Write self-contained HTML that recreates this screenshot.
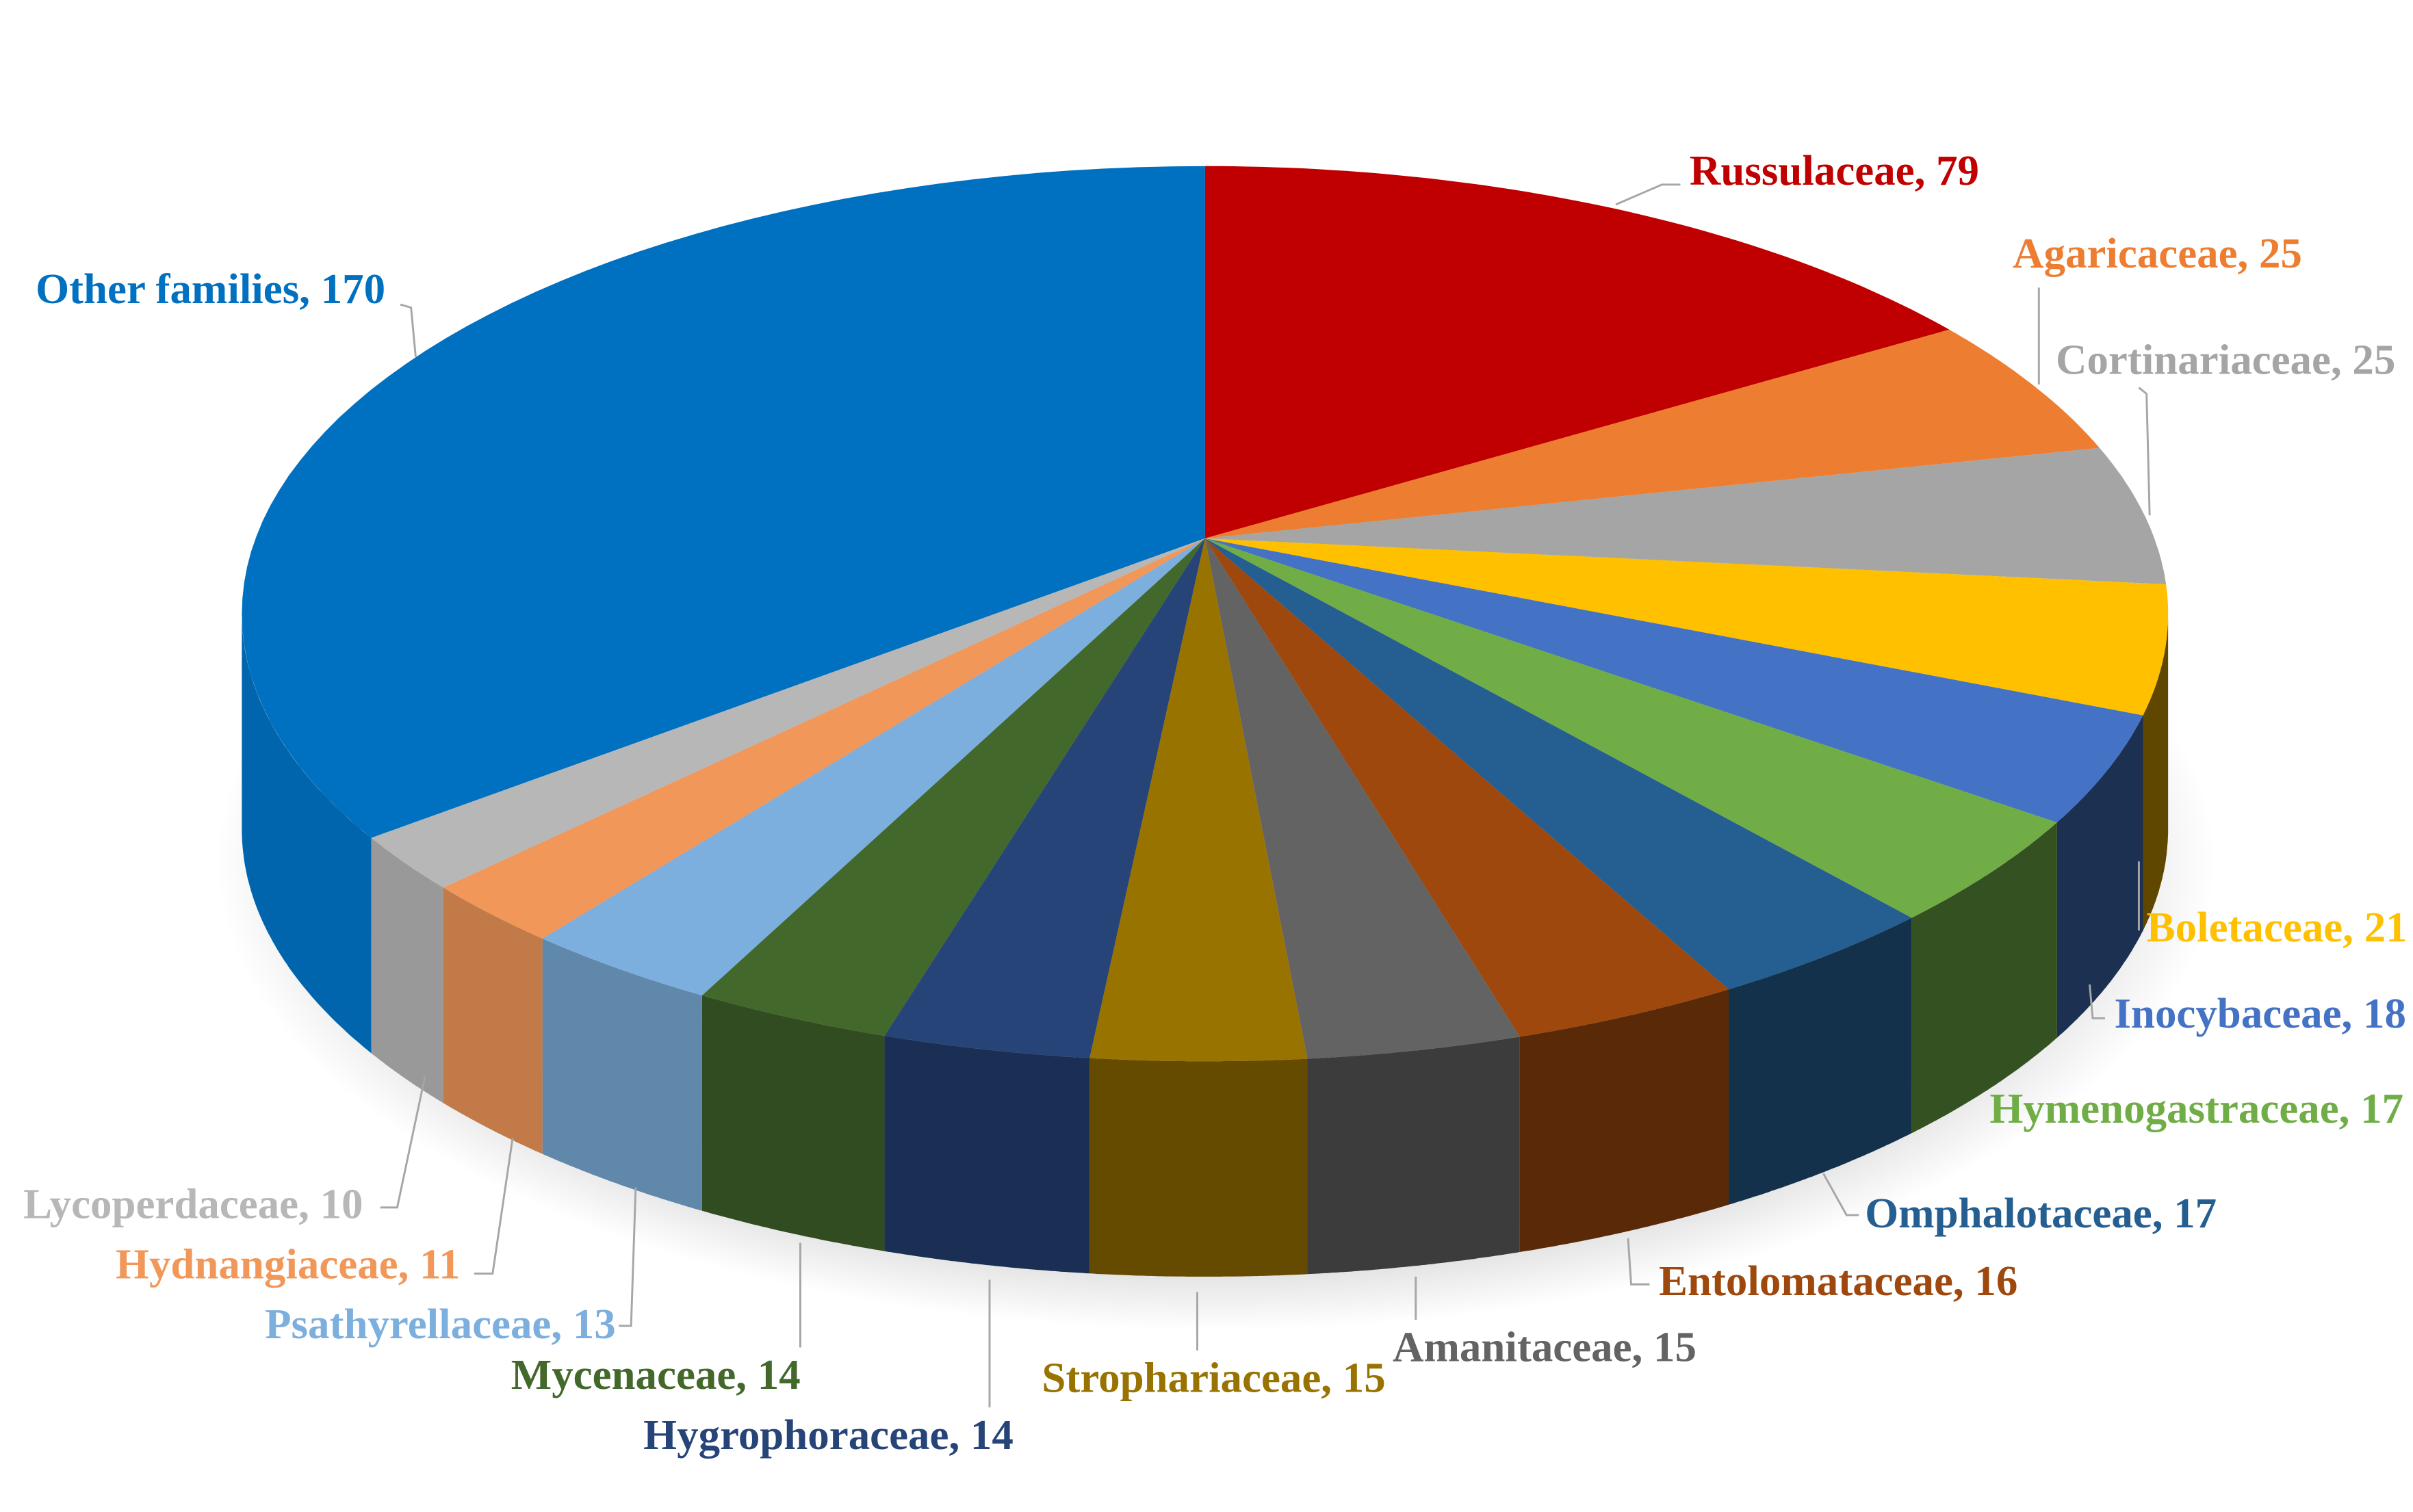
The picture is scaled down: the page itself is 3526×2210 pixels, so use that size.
<!DOCTYPE html>
<html><head><meta charset="utf-8"><style>
html,body{margin:0;padding:0;background:#fff;}
svg{display:block;}
text{font-family:"Liberation Serif",serif;font-size:28px;font-weight:bold;}
</style></head><body>
<svg id="s" width="3526" height="2210" viewBox="0 0 1568 983" xmlns="http://www.w3.org/2000/svg">
<defs>
<radialGradient id="sh" cx="0.5" cy="0.5" r="0.5"><stop offset="0.8" stop-color="#000" stop-opacity="0.18"/><stop offset="1" stop-color="#000" stop-opacity="0"/></radialGradient>
</defs>
<ellipse cx="790" cy="560" rx="650" ry="305" fill="url(#sh)"/>
<g id="sides"></g>
<g id="tops"></g>
<g stroke="#a6a6a6" stroke-width="1.3" fill="none">
<polyline points="1050,133 1080,120 1092,120"/>
<polyline points="1325,250 1325,187"/>
<polyline points="1397,335 1395,256 1390,252"/>
<polyline points="1390,560 1390,605"/>
<polyline points="1358,640 1360,662 1368,662"/>
<polyline points="1185,763 1200,790 1208,790"/>
<polyline points="1058,805 1060,835 1072,835"/>
<polyline points="920,830 920,858"/>
<polyline points="778,840 778,878"/>
<polyline points="643,832 643,915"/>
<polyline points="520,808 520,876"/>
<polyline points="413,772 410,862 402,862"/>
<polyline points="333,740 320,828 308,828"/>
<polyline points="276,700 258,785 247,785"/>
<polyline points="260,198 267,200 270,232"/>
</g>
<text x="1098" y="120" fill="#C00000">Russulaceae, 79</text>
<text x="1308" y="174" fill="#ED7D31">Agaricaceae, 25</text>
<text x="1336" y="243" fill="#A5A5A5">Cortinariaceae, 25</text>
<text x="1395" y="612" fill="#FFC000">Boletaceae, 21</text>
<text x="1374" y="668" fill="#4472C4">Inocybaceae, 18</text>
<text x="1293" y="730" fill="#70AD47">Hymenogastraceae, 17</text>
<text x="1212" y="798" fill="#255E91">Omphalotaceae, 17</text>
<text x="1078" y="842" fill="#9E480E">Entolomataceae, 16</text>
<text x="905" y="885" fill="#636363">Amanitaceae, 15</text>
<text x="677" y="905" fill="#997300">Strophariaceae, 15</text>
<text x="418" y="942" fill="#264478">Hygrophoraceae, 14</text>
<text x="332" y="903" fill="#43682B">Mycenaceae, 14</text>
<text x="172" y="870" fill="#7CAFDD">Psathyrellaceae, 13</text>
<text x="75" y="831" fill="#F1975A">Hydnangiaceae, 11</text>
<text x="15" y="792" fill="#B7B7B7">Lycoperdaceae, 10</text>
<text x="23" y="197" fill="#0070C0">Other families, 170</text>
</svg>
<script>
(function(){
var cols=["#C00000","#ED7D31","#A5A5A5","#FFC000","#4472C4","#70AD47","#255E91","#9E480E","#636363","#997300","#264478","#43682B","#7CAFDD","#F1975A","#B7B7B7","#0070C0"];
var pts=[[783,108],[1265,215],[1360,292],[1405,380],[1392,465],[1338,535],[1250,600],[1130,648],[992,680],[850,690],[708,688],[575,673],[455,648],[357,608],[288,577],[240,545]];
var cx=783,cy=399,rx=626,ry=291,ax=783,ay=350,D=140;
var ang=pts.map(function(p){var t=Math.atan2((p[0]-cx)/rx,-(p[1]-cy)/ry);if(t<0)t+=2*Math.PI;return t;});
ang[0]=0;ang.push(2*Math.PI);
function P(t,dy){return [cx+rx*Math.sin(t),cy-ry*Math.cos(t)+(dy||0)];}
function dark(c,f){var r=parseInt(c.substr(1,2),16),g=parseInt(c.substr(3,2),16),b=parseInt(c.substr(5,2),16);return "rgb("+Math.round(r*f)+","+Math.round(g*f)+","+Math.round(b*f)+")";}
var ns="http://www.w3.org/2000/svg",sides=document.getElementById("sides"),tops=document.getElementById("tops");
cols.forEach(function(c,k){
 var a0=ang[k],a1=ang[k+1];
 var n=60,top="M"+ax+","+ay,i,p;
 for(i=0;i<=n;i++){p=P(a0+(a1-a0)*i/n);top+=" L"+p[0].toFixed(1)+","+p[1].toFixed(1);}
 top+=" Z";
 var s0=Math.max(a0,Math.PI/2),s1=Math.min(a1,Math.PI*1.5);
 if(s1>s0){
  var sp="",m=60;
  for(i=0;i<=m;i++){p=P(s0+(s1-s0)*i/m);sp+=(i?" L":"M")+p[0].toFixed(1)+","+p[1].toFixed(1);}
  for(i=m;i>=0;i--){p=P(s0+(s1-s0)*i/m,D);sp+=" L"+p[0].toFixed(1)+","+p[1].toFixed(1);}
  sp+=" Z";
  var mid=(s0+s1)/2, f=0.35+0.6*Math.max(0,(mid-Math.PI/2)/Math.PI);
  var e=document.createElementNS(ns,"path");e.setAttribute("d",sp);e.setAttribute("fill",dark(c,f));sides.appendChild(e);
 }
 var t=document.createElementNS(ns,"path");t.setAttribute("d",top);t.setAttribute("fill",c);tops.appendChild(t);
});
})();
</script>
</body></html>
